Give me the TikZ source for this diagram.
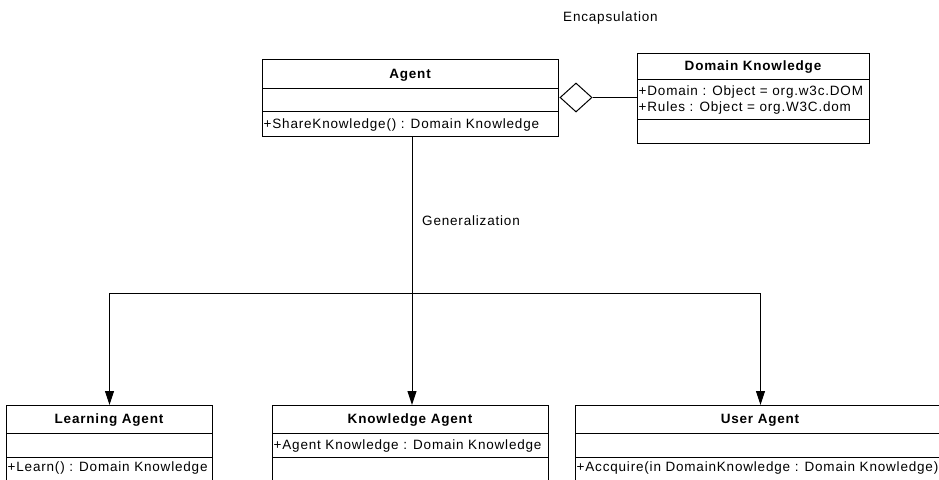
\documentclass[tikz,border=0pt]{standalone}
\usepackage{fontspec}
\setmainfont{Liberation Sans}
\newfontfamily\umlfont[LetterSpace=6]{Liberation Sans}
\usetikzlibrary{shapes.geometric,arrows.meta}

\tikzset{
  classbox/.style={draw=black, line width=1pt, fill=white, rectangle,
    inner sep=0pt, anchor=north west},
  sepline/.style={draw=black, line width=1pt},
  title/.style={font=\umlfont\fontsize{13.5}{16}\selectfont\bfseries,
    inner sep=0pt, anchor=base},
  member/.style={font=\umlfont\fontsize{13.5}{16}\selectfont,
    inner sep=0pt, anchor=base west},
  note/.style={font=\umlfont\fontsize{13.5}{16}\selectfont,
    inner sep=0pt, anchor=base west},
  link/.style={draw=black, line width=1pt},
  inherit/.style={link, -{Triangle[width=9pt,length=14pt]}},
  aggr/.style={draw=black, line width=1pt, fill=white, shape=diamond,
    inner sep=0pt, minimum width=32pt, minimum height=29pt},
}

\begin{document}
\begin{tikzpicture}[x=1pt, y=-1pt]
  \useasboundingbox (0,0) rectangle (939,479);
  \fill[white] (0,0) rectangle (939,479);

  % --- Agent ---
  \node[classbox, minimum width=296pt, minimum height=77pt] (agent) at (262,59) {};
  \draw[sepline] (262,88) -- (558,88);
  \draw[sepline] (262,111) -- (558,111);
  \node[title] (agentT) at (410,78.5) {Agent};
  \node[member] (agentOp) at (263.5,128.5) {+ShareKnowledge() : Domain Knowledge};

  % --- Domain Knowledge ---
  \node[classbox, minimum width=232pt, minimum height=90pt] (domain) at (637,53) {};
  \draw[sepline] (637,79) -- (869,79);
  \draw[sepline] (637,119) -- (869,119);
  \node[title] (domainT) at (753,70.5) {Domain Knowledge};
  \node[member] (domainA1) at (638.5,95.5) {+Domain : Object = org.w3c.DOM};
  \node[member] (domainA2) at (638.5,111.5) {+Rules : Object = org.W3C.dom};

  % aggregation diamond
  \node[aggr] (dia) at (576,97.5) {};
  \draw[link] (dia.east) -- (dia.east -| domain.west);
  \node[note] (encap) at (563,21.5) {Encapsulation};

  % --- Learning Agent ---
  \node[classbox, minimum width=206pt, minimum height=85pt] (learn) at (6,405) {};
  \draw[sepline] (6,433) -- (212,433);
  \draw[sepline] (6,457) -- (212,457);
  \node[title] (learnT) at (109,423.5) {Learning Agent};
  \node[member] (learnOp) at (7.5,471.5) {+Learn() : Domain Knowledge};

  % --- Knowledge Agent ---
  \node[classbox, minimum width=276pt, minimum height=85pt] (know) at (272,405) {};
  \draw[sepline] (272,433) -- (548,433);
  \draw[sepline] (272,457) -- (548,457);
  \node[title] (knowT) at (410,423.5) {Knowledge Agent};
  \node[member] (knowA) at (273.5,449.5) {+Agent Knowledge : Domain Knowledge};

  % --- User Agent ---
  \node[classbox, minimum width=370pt, minimum height=85pt] (user) at (575,405) {};
  \draw[sepline] (575,433) -- (945,433);
  \draw[sepline] (575,457) -- (945,457);
  \node[title] (userT) at (760,423.5) {User Agent};
  \node[member] (userOp) at (576.5,471.5) {+Accquire(in DomainKnowledge : Domain Knowledge)};

  % --- generalization tree ---
  \coordinate (bus) at (412,293);
  \draw[link] (agent.south -| bus) -- (bus);
  \draw[inherit] (bus) -| (learn.north);
  \draw[inherit] (bus) -- (know.north -| bus);
  \draw[inherit] (bus) -| (user.north);
  \node[note] (gen) at (422,225.5) {Generalization};
\end{tikzpicture}
\end{document}
